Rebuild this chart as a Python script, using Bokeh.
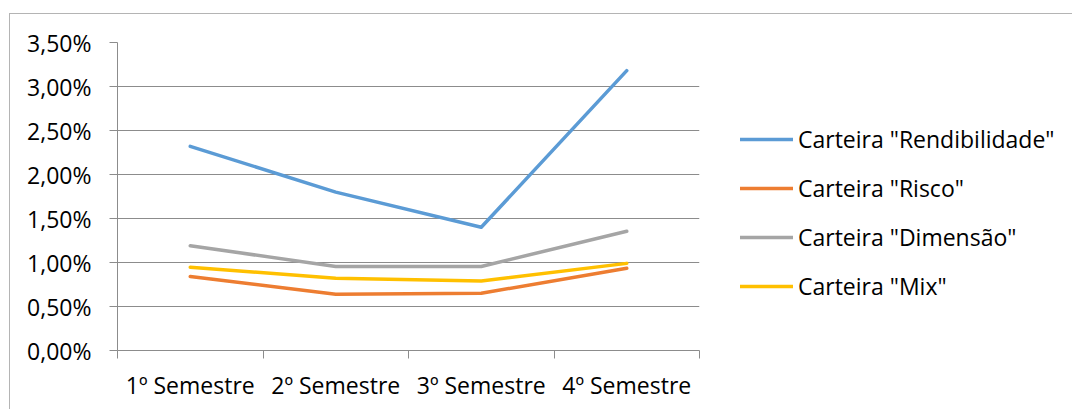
from bokeh.plotting import figure
from bokeh.models import (Range1d, FixedTicker, CustomJSTickFormatter, Legend, LegendItem,
                          ColumnDataSource, InlineStyleSheet)
from bokeh.embed import file_html
from bokeh.resources import INLINE

categories = ["1º Semestre", "2º Semestre", "3º Semestre", "4º Semestre"]
rendibilidade = [2.32, 1.80, 1.40, 3.18]
risco = [0.84, 0.64, 0.65, 0.935]
dimensao = [1.19, 0.955, 0.955, 1.355]
mix = [0.946, 0.82, 0.79, 0.99]
series_names = ['Carteira "Rendibilidade"', 'Carteira "Risco"', 'Carteira "Dimensão"', 'Carteira "Mix"']
series_colors = ["#5B9BD5", "#ED7D31", "#A5A5A5", "#FFC000"]
y_ticks = [0, 0.5, 1.0, 1.5, 2.0, 2.5, 3.0, 3.5]

FONT = "Open Sans"
FS = "23px"
GRID = "#8c8c8c"

xs = [i + 0.5 for i in range(len(categories))]

border_css = InlineStyleSheet(css="""
:host { position: relative; }
:host::after {
  content: ""; position: absolute; left: 9px; top: 13px; right: 0; bottom: 0;
  border-left: 1.5px solid #b4b4b4; border-top: 1.5px solid #b4b4b4;
  pointer-events: none;
}
""")

p = figure(width=1072, height=409, output_backend="svg", toolbar_location=None,
           x_range=Range1d(0, len(categories)), y_range=Range1d(0, 3.5),
           min_border_left=117, min_border_right=373, min_border_top=42, min_border_bottom=59,
           frame_width=582, frame_height=308, stylesheets=[border_css])
p.outline_line_color = None
p.background_fill_color = "white"
p.border_fill_color = "white"

items = []
for name, vals, col in zip(series_names, [rendibilidade, risco, dimensao, mix], series_colors):
    src = ColumnDataSource(dict(x=xs, y=vals))
    r = p.line("x", "y", source=src, line_color=col, line_width=3.5, line_cap="round", line_join="round")
    items.append(LegendItem(label=name, renderers=[r]))

p.xgrid.visible = False
p.ygrid.ticker = FixedTicker(ticks=y_ticks)
p.ygrid.grid_line_color = GRID
p.ygrid.grid_line_width = 1

ya = p.yaxis[0]
ya.ticker = FixedTicker(ticks=y_ticks)
ya.formatter = CustomJSTickFormatter(code="return tick.toFixed(2).replace('.', ',') + '%';")
ya.axis_line_color = GRID
ya.major_tick_line_color = GRID
ya.major_tick_out = 8
ya.major_tick_in = 0
ya.minor_tick_line_color = None
ya.major_label_text_font = FONT
ya.major_label_text_font_size = FS
ya.major_label_text_color = "black"
ya.major_label_standoff = 18

xa = p.xaxis[0]
xa.ticker = FixedTicker(ticks=xs, minor_ticks=list(range(len(categories) + 1)))
xa.major_label_overrides = {x: c for x, c in zip(xs, categories)}
xa.axis_line_color = GRID
xa.major_tick_line_color = None
xa.major_tick_out = 0
xa.major_tick_in = 0
xa.minor_tick_line_color = GRID
xa.minor_tick_out = 8
xa.minor_tick_in = 0
xa.major_label_text_font = FONT
xa.major_label_text_font_size = FS
xa.major_label_text_color = "black"
xa.major_label_standoff = 10

legend = Legend(items=items, location=(41, 48), orientation="vertical",
                glyph_width=53, glyph_height=20, label_height=20, spacing=17,
                label_standoff=5, padding=0, margin=0,
                label_text_font=FONT, label_text_font_size=FS, label_text_color="black",
                background_fill_alpha=0, border_line_color=None)
p.add_layout(legend, "right")

open("out.html", "w").write(file_html(p, INLINE))
